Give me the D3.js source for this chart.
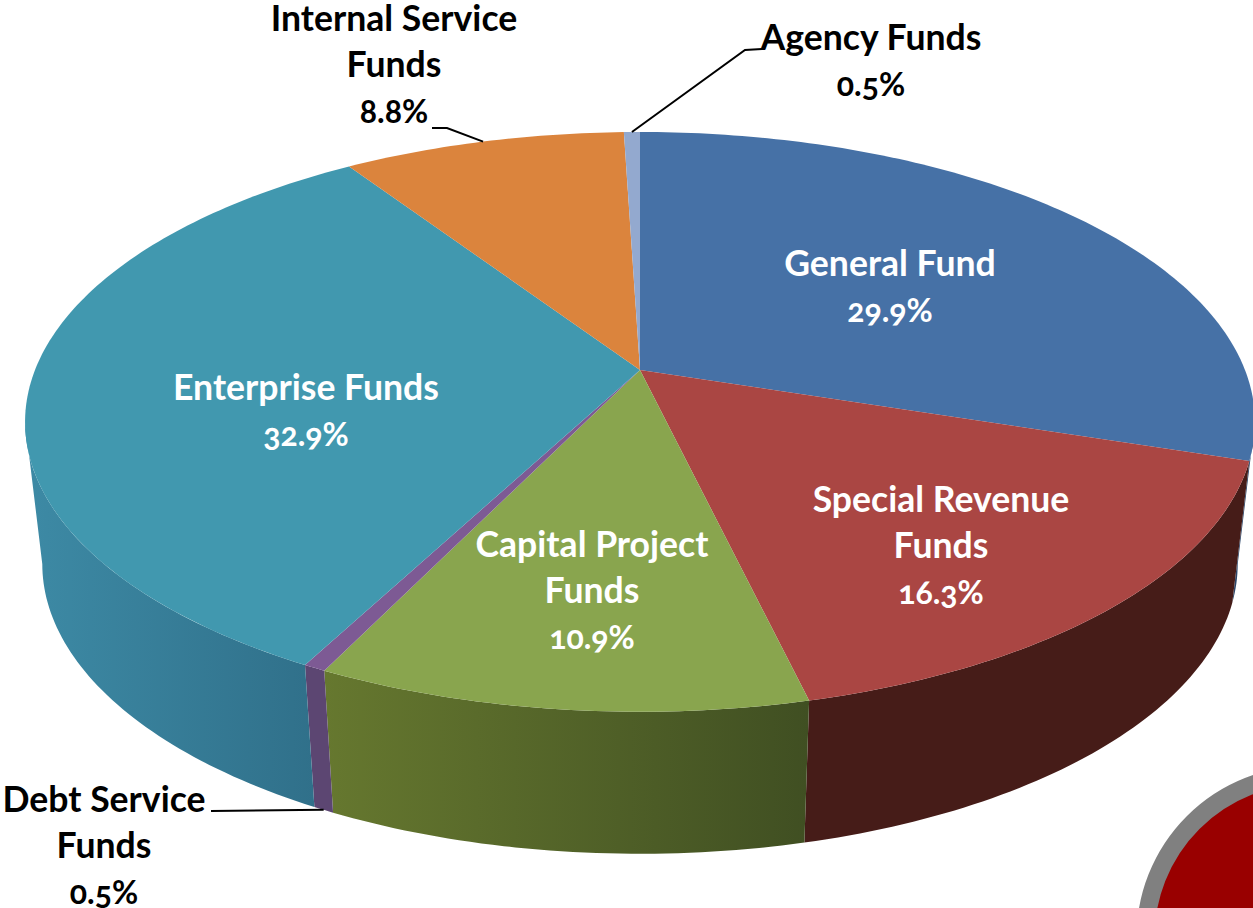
<!DOCTYPE html>
<html>
<head>
<meta charset="utf-8">
<script src="https://cdn.jsdelivr.net/npm/d3@7"></script>
<style>
  html, body { margin: 0; padding: 0; background: #fff; overflow: hidden; }
  text { font-family: Lato, "Open Sans", sans-serif; font-weight: 700; font-size: 35.6px; font-variant-numeric: oldstyle-nums; }
  .pct { font-size: 32px; }
</style>
</head>
<body>
<div id="chart"></div>
<script>
// Chart data, clockwise from 12 o'clock
const categories = ["General Fund", "Special Revenue Funds", "Capital Project Funds", "Debt Service Funds", "Enterprise Funds", "Internal Service Funds", "Agency Funds"];
const shares = [29.9, 16.3, 10.9, 0.5, 32.9, 8.8, 0.5];
const percentLabels = ["29.9%", "16.3%", "10.9%", "0.5%", "32.9%", "8.8%", "0.5%"];
const labelLines = [["General Fund"], ["Special Revenue", "Funds"], ["Capital Project", "Funds"], ["Debt Service", "Funds"], ["Enterprise Funds"], ["Internal Service", "Funds"], ["Agency Funds"]];

// Colours
const topColors = ["#4671a6", "#aa4643", "#89a54e", "#7d5a94", "#4198af", "#db843d", "#93a9cf"];
const wallLeft = ["#2c476a", "#461c18", "#66782f", "#5c4672", "#3d8aa5", "#b86d30", "#7c8fb0"];
const wallRight = ["#2c476a", "#461c18", "#404f22", "#5c4672", "#30708a", "#b86d30", "#7c8fb0"];

// Label layout: centre x, first baseline y
const labelX = [890, 941, 592, 104, 306, 394, 871];
const labelY = [276, 512, 557, 812, 400, 30.5, 50];
const labelColor = ["#fff", "#fff", "#fff", "#000", "#fff", "#000", "#000"];
const lineHeight = 46;

const width = 1253;
const height = 908;

// Perspective of the disc: apex of the slices and tilt of the plane
const apex = { x: 640, y: 370 };
const radiusX = 605;
const radiusY = 280.6;
const tilt = 0.179;
const depth = 142;
const bottomShrink = 0.972;

// The wall is only seen between the two side extremes of the ellipse
const wallStart = Math.acos(-tilt);
const wallEnd = 2 * Math.PI - wallStart;

function project(angle, level) {
    const u = Math.sin(angle), v = Math.cos(angle);
    const w = 1 + tilt * v;
    const shrink = level ? bottomShrink : 1;
    return [
        apex.x + radiusX * shrink * u / w,
        apex.y - radiusY * v / w + (level ? depth : 0)
    ];
}

const svg = d3.select("#chart").append("svg")
    .attr("width", width)
    .attr("height", height)
    .style("display", "block");

const defs = svg.append("defs");
const line = d3.line();

const arcs = d3.pie().sort(null).startAngle(0).endAngle(2 * Math.PI)(shares);

function anglesBetween(a0, a1) {
    const n = Math.max(4, Math.ceil((a1 - a0) * 60));
    return d3.range(n + 1).map(i => a0 + (a1 - a0) * i / n);
}

// Decorative badge in the lower right corner
svg.append("circle")
    .attr("cx", 1308)
    .attr("cy", 937.5)
    .attr("r", 162.5)
    .attr("fill", "#990000")
    .attr("stroke", "#808080")
    .attr("stroke-width", 18);

// Side walls first, the top surface goes over them
arcs.forEach((d, i) => {
    const a0 = Math.max(d.startAngle, wallStart);
    const a1 = Math.min(d.endAngle, wallEnd);
    if (a1 <= a0) return;

    const angles = anglesBetween(a0, a1);
    const topEdge = angles.map(a => project(a, 0));
    const bottomEdge = angles.map(a => project(a, 1)).reverse();
    const xs = topEdge.concat(bottomEdge).map(p => p[0]);

    const grad = defs.append("linearGradient")
        .attr("id", "wall" + i)
        .attr("gradientUnits", "userSpaceOnUse")
        .attr("x1", d3.min(xs)).attr("x2", d3.max(xs))
        .attr("y1", 0).attr("y2", 0);
    grad.append("stop").attr("offset", 0).attr("stop-color", wallLeft[i]);
    grad.append("stop").attr("offset", 1).attr("stop-color", wallRight[i]);

    svg.append("path")
        .attr("class", "wall")
        .attr("d", line(topEdge.concat(bottomEdge)) + "Z")
        .attr("fill", "url(#wall" + i + ")");
});

svg.selectAll(".slice")
    .data(arcs)
  .enter().append("path")
    .attr("class", "slice")
    .attr("d", d => line([[apex.x, apex.y]].concat(anglesBetween(d.startAngle, d.endAngle).map(a => project(a, 0)))) + "Z")
    .attr("fill", (d, i) => topColors[i]);

// Leader lines for the three outside labels
const midAngle = d => (d.startAngle + d.endAngle) / 2;
const leaders = [
    { points: [[211, 811], project(midAngle(arcs[3]), 1)] },
    { points: [[432, 128], [447, 128], project(midAngle(arcs[5]), 0)] },
    { points: [[762, 49], [745, 50], project(midAngle(arcs[6]), 0)] }
];
svg.selectAll(".leader")
    .data(leaders)
  .enter().append("path")
    .attr("class", "leader")
    .attr("d", d => line(d.points))
    .attr("fill", "none")
    .attr("stroke", "#000")
    .attr("stroke-width", 2);

// Labels
categories.forEach((name, i) => {
    const rows = labelLines[i].concat(percentLabels[i]);
    const t = svg.append("text")
        .attr("text-anchor", "middle")
        .attr("fill", labelColor[i]);
    rows.forEach((row, j) => {
        t.append("tspan")
            .attr("class", j === rows.length - 1 ? "pct" : null)
            .attr("x", labelX[i])
            .attr("y", labelY[i] + j * lineHeight)
            .text(row);
    });
});
</script>
</body>
</html>
